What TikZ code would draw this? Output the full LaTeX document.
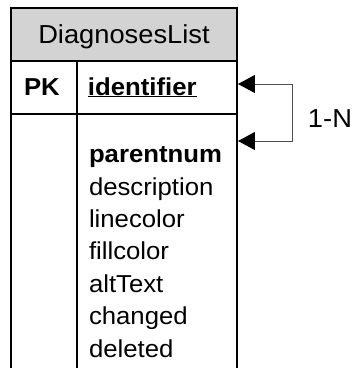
\documentclass[tikz,border=0pt]{standalone}
\usepackage{fontspec}
\setmainfont{Liberation Sans}[FakeStretch=1.05]
\usepackage{tikz}
\usetikzlibrary{arrows.meta}
\tikzset{every picture/.append style={font=\fontsize{24.5}{30}\selectfont}}
\definecolor{headgray}{HTML}{D3D3D3}
\definecolor{linkgray}{HTML}{505050}
\tikzset{
  field/.style={anchor=base west,inner sep=0pt},
  relink/.style={line width=1pt,draw=linkgray,
    {Triangle[length=17pt,width=18pt,color=black]}-{Triangle[length=17pt,width=18pt,color=black]}}
}

\begin{document}
\begin{tikzpicture}[x=1pt,y=-1pt,line width=2pt]
    \useasboundingbox (0,0) rectangle (356,368);
    % table frame
    \fill[headgray] (11,8) rectangle (237,61);
    \draw (11,370) -- (11,8) -- (237,8) -- (237,370);
    \draw (11,61) -- (237,61);
    \draw (11,114) -- (237,114);
    \draw (77,61) -- (77,370);
    % texts
    \node[anchor=base,inner sep=0pt,font=\fontsize{26}{30}\selectfont] (title) at (124,43) {DiagnosesList};
    \node[field] (pk) at (23,95) {\bfseries PK};
    \node[field] (ident) at (87,95) {\bfseries\underline{identifier}};
    \node[field] (parent) at (88,162.6) {\bfseries parentnum};
    \foreach \fld [count=\i from 0] in {description,linecolor,fillcolor,altText,changed,deleted}
      \node[field] (f\i) at (88,{195+32.4*\i}) {\fld};
    % self relation
    \coordinate (pkin) at (238,84);
    \coordinate (fkin) at (238,141);
    \draw[relink] (pkin) -- ++(55,0) coordinate (turn) |- (fkin);
    \node[field,font=\fontsize{26}{30}\selectfont] (card) at (307,127) {1-N};
\end{tikzpicture}
\end{document}
